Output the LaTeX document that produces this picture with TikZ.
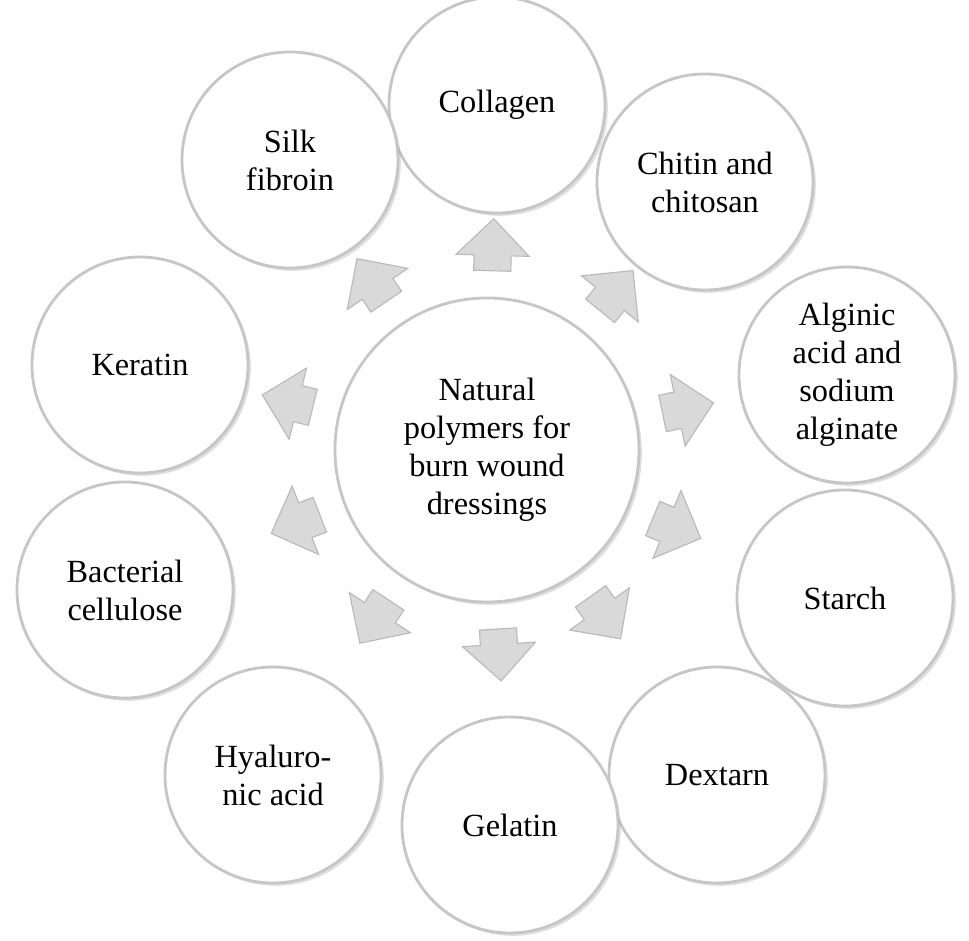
\documentclass[tikz,border=0pt]{standalone}
\usepackage{fontspec}
\setmainfont{Liberation Serif}
\usetikzlibrary{shapes.arrows,shadows,calc}
\tikzset{
  ball/.style={circle,fill=white,draw=gray!45,line width=2pt,align=center,
    drop shadow={opacity=0.25,shadow xshift=2pt,shadow yshift=-2pt},
    font=\fontsize{23}{27}\selectfont},
  arrowbox/.style={single arrow,fill=gray!30,draw=gray!55,line width=0.8pt,
    minimum height=1.3cm,inner xsep=0pt,inner ysep=0.45cm,
    single arrow head extend=0.45cm,single arrow head indent=0pt}
}
\begin{document}
\begin{tikzpicture}[x=0.025cm,y=-0.025cm]
	\useasboundingbox(0,0)rectangle(969,941);
	\node[ball,minimum size=7.6cm](c)at(487,450){Natural\\polymers for\\burn wound\\dressings};
	\foreach \i/\x/\y/\t in{1/497/105/Collagen,2/705/182/Chitin and\\chitosan,
		3/847/375/Alginic\\acid and\\sodium\\alginate,4/845/598/Starch,
		5/717/775/Dextarn,6/510/825/Gelatin,7/273/775/Hyaluro-\\nic acid,
		8/125/590/Bacterial\\cellulose,9/140/365/Keratin,10/290/160/Silk\\fibroin}
	\node[ball,minimum size=5.4cm](o\i)at(\x,\y){\t};
	\foreach \i in{1,...,10}
	\path let \p1=($(o\i)-(c)$),\n1={atan2(\y1,\x1)} in
		node[arrowbox,rotate=\n1]at($(c)!4.9cm!(o\i)$){};
\end{tikzpicture}
\end{document}
